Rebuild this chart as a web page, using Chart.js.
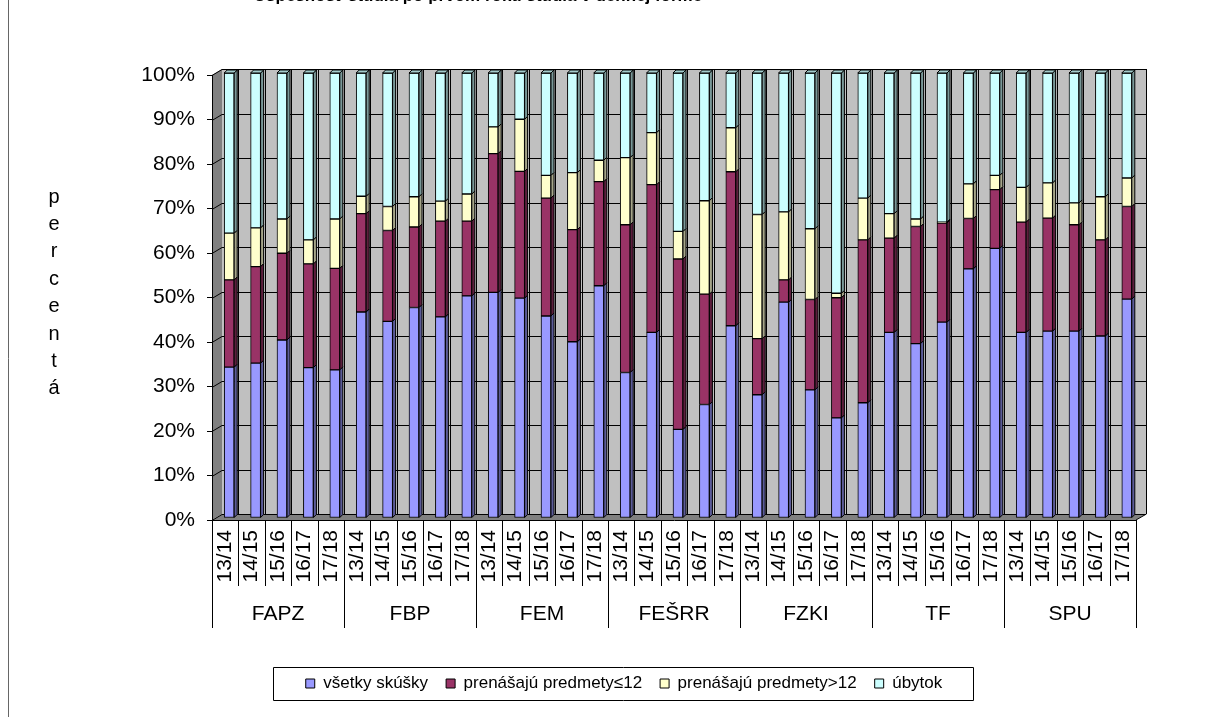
<!DOCTYPE html>
<html>
<head>
<meta charset="utf-8">
<script src="https://cdn.jsdelivr.net/npm/chart.js@4.4.1/dist/chart.umd.min.js"></script>
<style>
  html, body { margin: 0; padding: 0; background: #fff; }
  #wrap { width: 1211px; height: 717px; position: relative; }
</style>
</head>
<body>
<div id="wrap"><canvas id="chart"></canvas></div>
<script>
const chartTitle = 'Úspešnosť štúdia po prvom roku štúdia v dennej forme';
const axisTitle = 'percentá';
const years = ['13/14', '14/15', '15/16', '16/17', '17/18'];
const faculties = ['FAPZ', 'FBP', 'FEM', 'FEŠRR', 'FZKI', 'TF', 'SPU'];

// values in %, 5 years per faculty, same order as faculties
const allExams = [33.9, 34.8, 40.0, 33.8, 33.3, 46.3, 44.2, 47.3, 45.2, 49.9,
  50.7, 49.4, 45.4, 39.6, 52.2, 32.7, 41.7, 19.9, 25.5, 43.2,
  27.7, 48.5, 28.8, 22.5, 25.9, 41.7, 39.2, 44.0, 56.0, 60.6,
  41.7, 42.0, 42.0, 40.9, 49.2];
const carryUpTo12 = [19.6, 21.7, 19.5, 23.3, 22.8, 22.1, 20.4, 18.1, 21.5, 16.8,
  31.2, 28.5, 26.5, 25.2, 23.4, 33.2, 33.2, 38.3, 24.8, 34.6,
  12.6, 5.0, 20.3, 27.0, 36.6, 21.2, 26.3, 22.3, 11.3, 13.2,
  24.8, 25.4, 23.9, 21.6, 20.8];
const carryOver12 = [10.5, 8.7, 7.7, 5.4, 11.1, 3.9, 5.4, 6.8, 4.5, 6.1,
  6.0, 11.7, 5.1, 12.8, 4.8, 15.1, 11.7, 6.2, 21.0, 9.9,
  27.9, 15.3, 15.9, 1.0, 9.4, 5.5, 1.7, 0.2, 7.8, 3.2,
  7.8, 7.9, 4.9, 9.7, 6.4];
const dropout = [36.0, 34.8, 32.8, 37.5, 32.8, 27.7, 30.0, 27.8, 28.8, 27.2,
  12.1, 10.4, 23.0, 22.4, 19.6, 19.0, 13.4, 35.6, 28.7, 12.3,
  31.8, 31.2, 35.0, 49.5, 28.1, 31.6, 32.8, 33.5, 24.9, 23.0,
  25.7, 24.7, 29.2, 27.8, 23.6];

const labels = faculties.flatMap(() => years);
const font = '"Liberation Sans", Arial, sans-serif';
const DX = 10, DY = -6;

// 3D walls behind the bars
const walls = {
  id: 'walls',
  beforeDraw(chart) {
    const {ctx, chartArea: a, scales: {x, y}} = chart;
    const cw = x.getPixelForValue(1) - x.getPixelForValue(0);
    ctx.save();
    ctx.lineWidth = 1;
    ctx.strokeStyle = '#000';
    ctx.fillStyle = '#c0c0c0';
    ctx.fillRect(a.left + DX, a.top + DY, a.width, a.height);

    // side wall
    ctx.fillStyle = '#808080';
    ctx.beginPath();
    ctx.moveTo(a.left, a.top);
    ctx.lineTo(a.left + DX, a.top + DY);
    ctx.lineTo(a.left + DX, a.bottom + DY);
    ctx.lineTo(a.left, a.bottom);
    ctx.closePath();
    ctx.fill();
    // floor
    ctx.beginPath();
    ctx.moveTo(a.left, a.bottom);
    ctx.lineTo(a.right, a.bottom);
    ctx.lineTo(a.right + DX, a.bottom + DY);
    ctx.lineTo(a.left + DX, a.bottom + DY);
    ctx.closePath();
    ctx.fill();

    ctx.beginPath();
    for (let k = 1; k < labels.length; k++) {
      const px = Math.round(x.getPixelForValue(k) - cw / 2) + 0.5;
      ctx.moveTo(px, a.top + DY);
      ctx.lineTo(px, a.bottom + DY);
    }
    y.ticks.forEach(t => {
      const py = Math.round(y.getPixelForValue(t.value)) + 0.5;
      ctx.moveTo(a.left, py);
      ctx.lineTo(a.left + DX, py + DY);
      ctx.lineTo(a.right + DX, py + DY);
    });
    ctx.moveTo(a.right + DX + 0.5, a.top + DY);
    ctx.lineTo(a.right + DX + 0.5, a.bottom + DY);
    ctx.lineTo(a.right, a.bottom);
    ctx.stroke();
    ctx.restore();
  }
};

// side and top faces of the bars
const bars3d = {
  id: 'bars3d',
  beforeDatasetsDraw(chart) {
    chart.ctx.save();
    chart.ctx.translate(4, -2);
  },
  afterDatasetsDraw(chart) {
    const ctx = chart.ctx;
    const n = chart.data.datasets.length;
    const d = 3;
    ctx.lineWidth = 1;
    ctx.strokeStyle = '#000';
    chart.data.datasets.forEach((ds, i) => {
      chart.getDatasetMeta(i).data.forEach(bar => {
        const {x, y, base, width} = bar.getProps(['x', 'y', 'base', 'width'], true);
        const l = x - width / 2, r = x + width / 2;
        ctx.fillStyle = ds.sideColor;
        ctx.beginPath();
        ctx.moveTo(r, y);
        ctx.lineTo(r + d, y - d);
        ctx.lineTo(r + d, base - d);
        ctx.lineTo(r, base);
        ctx.closePath();
        ctx.fill();
        ctx.stroke();
        if (i === n - 1) {
          ctx.fillStyle = ds.topColor;
          ctx.beginPath();
          ctx.moveTo(l, y);
          ctx.lineTo(l + d, y - d);
          ctx.lineTo(r + d, y - d);
          ctx.lineTo(r, y);
          ctx.closePath();
          ctx.fill();
          ctx.stroke();
        }
      });
    });
    ctx.restore();
  }
};

// category separators, legend frame, titles, outer frame
const extras = {
  id: 'extras',
  afterDraw(chart) {
    const {ctx, chartArea: a, scales: {x}} = chart;
    const cw = x.getPixelForValue(1) - x.getPixelForValue(0);
    ctx.save();
    ctx.strokeStyle = '#000';
    ctx.lineWidth = 1;
    ctx.beginPath();
    for (let k = 0; k <= labels.length; k++) {
      const px = Math.round(x.getPixelForValue(0) - cw / 2 + k * cw) + 0.5;
      ctx.moveTo(px, a.bottom);
      ctx.lineTo(px, k % years.length === 0 ? 628 : 586);
    }
    ctx.stroke();

    // legend frame
    const boxes = chart.legend.legendHitBoxes;
    if (boxes.length) {
      const first = boxes[0], last = boxes[boxes.length - 1];
      const cy = first.top + first.height / 2;
      ctx.beginPath();
      ctx.rect(Math.round(first.left - 33) + 0.5, Math.round(cy - 17) + 0.5,
        Math.round(last.left + last.width + 30 - first.left + 33), 33);
      ctx.stroke();
    }

    // outer frame on the left
    ctx.strokeStyle = '#666';
    ctx.beginPath();
    ctx.moveTo(8.5, 0);
    ctx.lineTo(8.5, 717);
    ctx.stroke();

    ctx.fillStyle = '#000';
    ctx.textAlign = 'center';
    ctx.textBaseline = 'middle';
    ctx.font = '20px ' + font;
    [...axisTitle].forEach((ch, i) => ctx.fillText(ch, 54, 197 + i * 27.4));

    ctx.textBaseline = 'alphabetic';
    ctx.font = 'bold 17px ' + font;
    ctx.fillText(chartTitle, 478, 1);
    ctx.restore();
  }
};

new Chart(document.getElementById('chart'), {
  type: 'bar',
  data: {
    labels: labels,
    datasets: [
      { label: 'všetky skúšky', data: allExams, backgroundColor: '#9999ff', sideColor: '#5c5c99' },
      { label: 'prenášajú predmety≤12', data: carryUpTo12, backgroundColor: '#993366', sideColor: '#5c1f3d' },
      { label: 'prenášajú predmety>12', data: carryOver12, backgroundColor: '#ffffcc', sideColor: '#a6a68a' },
      { label: 'úbytok', data: dropout, backgroundColor: '#ccffff', sideColor: '#7a9999', topColor: '#a3cccc' }
    ].map(ds => Object.assign(ds, {
      borderColor: '#000',
      borderWidth: 1,
      borderSkipped: false,
      barThickness: 10,
      clip: false
    }))
  },
  options: {
    responsive: true,
    maintainAspectRatio: false,
    animation: false,
    layout: { padding: { left: 112, right: 75, top: 75, bottom: 15 } },
    plugins: {
      title: { display: false },
      tooltip: { enabled: false },
      legend: {
        position: 'bottom',
        labels: {
          boxWidth: 9,
          boxHeight: 9,
          padding: 18,
          color: '#000',
          font: { family: font, size: 17 }
        }
      }
    },
    scales: {
      x: {
        stacked: true,
        offset: true,
        grid: { display: false, drawTicks: false },
        border: { display: true, color: '#000', width: 1 },
        ticks: {
          autoSkip: false,
          minRotation: 90,
          maxRotation: 90,
          padding: 10,
          color: '#000',
          font: { family: font, size: 21 }
        },
        afterFit(s) { s.height = 80; }
      },
      x2: {
        type: 'category',
        labels: faculties,
        position: 'bottom',
        weight: 1,
        offset: true,
        grid: { display: false, drawTicks: false },
        border: { display: false },
        ticks: {
          autoSkip: false,
          maxRotation: 0,
          padding: 2,
          color: '#000',
          font: { family: font, size: 21 }
        },
        afterFit(s) { s.height = 57; }
      },
      y: {
        stacked: true,
        min: 0,
        max: 100,
        grid: { drawOnChartArea: false, drawTicks: true, tickLength: 5, color: '#000' },
        border: { display: true, color: '#000', width: 1 },
        ticks: {
          stepSize: 10,
          padding: 12,
          color: '#000',
          font: { family: font, size: 21 },
          callback: v => v + '%'
        },
        afterFit(s) { s.width = 100; }
      }
    }
  },
  plugins: [walls, bars3d, extras]
});
</script>
</body>
</html>
